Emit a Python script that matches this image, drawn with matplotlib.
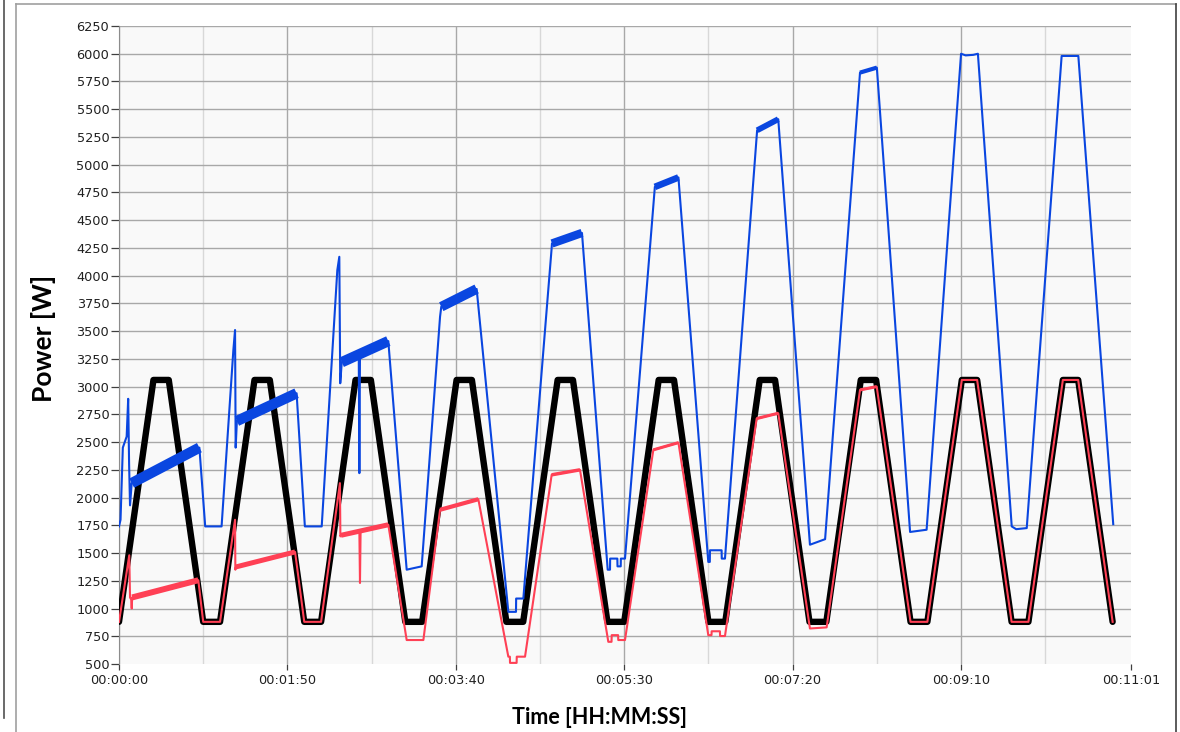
import matplotlib.pyplot as plt
from matplotlib.lines import Line2D
from matplotlib.ticker import FixedLocator, FuncFormatter

# reference power profile (black), seconds / W
ref_t = [0, 22.5, 32.5, 55, 66, 88.5, 98.5, 121, 132, 154.5, 164.5, 187, 198, 220.5,
         230.5, 253, 264, 286.5, 296.5, 319, 330, 352.5, 362.5, 385, 396, 418.5, 428.5,
         451, 462, 484.5, 494.5, 517, 528, 550.5, 560.5, 583, 594, 616.5, 626.5, 649]
ref_p = [880, 3060, 3060, 880, 880, 3060, 3060, 880, 880, 3060, 3060, 880, 880, 3060,
         3060, 880, 880, 3060, 3060, 880, 880, 3060, 3060, 880, 880, 3060, 3060,
         880, 880, 3060, 3060, 880, 880, 3060, 3060, 880, 880, 3060, 3060, 880]

# blue trace
in_t = [0, 1.0, 2.5, 5.0, 6.0, 6.6, 7.2, 8.3, 52.5, 56.3, 67.0,
        74.7, 75.8, 76.2, 77.0, 116.0, 121.4, 132.4,
        142.6, 143.9, 144.5, 145.5, 156.6, 157.0, 157.4, 175.9, 187.9, 197.7,
        209.7, 210.5, 233.6, 254.3, 259.3, 259.4, 264.1,
        282.6, 282.8, 302.4, 319.2, 320.7, 320.8, 325.5, 325.6, 327.7, 327.8, 330.5,
        350.0, 365.4, 384.9, 385.9, 386.0, 393.6, 393.7, 395.8,
        416.8, 430.6, 451.3, 461.2,
        484.0, 495.0, 516.7, 527.5,
        550.0, 553.0, 558.0, 561.0, 583.1, 586.0, 592.9,
        615.7, 626.6, 649.4]
in_p = [1740, 1800, 2450, 2550, 2890, 2300, 1930, 2130, 2450, 1740, 1740,
        3330, 3510, 2450, 2690, 2940, 1740, 1740,
        4050, 4170, 3030, 3220, 3290, 2220, 3300, 3410, 1350, 1380,
        3630, 3720, 3880, 970, 970, 1090, 1090,
        4250, 4290, 4385, 1350, 1350, 1450, 1450, 1380, 1380, 1450, 1450,
        4800, 4885, 1420, 1420, 1525, 1525, 1450, 1450,
        5310, 5410, 1575, 1625,
        5830, 5875, 1690, 1710,
        6000, 5985, 5990, 6000, 1740, 1715, 1725,
        5980, 5980, 1760]

# red trace
out_t = [0, 6.7, 7.2, 8.0, 8.3, 8.6, 51.8, 55.0, 66.0,
         75.8, 76.0, 76.4, 115.0, 121.0, 132.0,
         144.3, 144.6, 145.0, 157.0, 157.4, 157.8, 175.9, 187.9, 198.8,
         209.7, 234.7, 254.3, 255.3, 255.4, 259.7, 259.8, 265.2,
         282.6, 301.1, 319.6, 321.7, 321.8, 326.0, 326.1, 330.5,
         349.0, 365.4, 384.9, 387.0, 387.1, 392.5, 392.6, 395.8,
         416.5, 430.6, 451.3, 462.2,
         484.0, 494.9, 517.0, 528.0,
         550.5, 560.5, 583.0, 594.0,
         616.5, 626.5, 649.0]
out_p = [880, 1480, 1100, 1080, 1000, 1100, 1255, 880, 880,
         1800, 1350, 1375, 1510, 880, 880,
         2130, 1650, 1660, 1700, 1230, 1702, 1755, 716, 716,
         1890, 1985, 566, 566, 510, 510, 566, 566,
         2205, 2250, 700, 700, 760, 760, 716, 716,
         2430, 2495, 760, 760, 795, 795, 752, 752,
         2712, 2760, 820, 830,
         2970, 3000, 880, 880,
         3060, 3060, 880, 880,
         3060, 3060, 880]

# noisy plateaus (start time, start power, end time, end power)
in_band_t0 = [8.3, 77.0, 145.5, 210.5, 282.8, 350.0, 416.8, 484.0]
in_band_p0 = [2130, 2690, 3220, 3720, 4290, 4800, 5310, 5830]
in_band_t1 = [52.5, 116.0, 175.9, 233.6, 302.4, 365.4, 430.6, 495.0]
in_band_p1 = [2450, 2940, 3410, 3880, 4385, 4885, 5410, 5875]

out_band_t0 = [8.6, 76.4, 145.0, 209.7, 282.6, 349.0, 416.5, 484.0]
out_band_p0 = [1100, 1375, 1660, 1890, 2205, 2430, 2712, 2970]
out_band_t1 = [51.8, 115.0, 175.9, 234.7, 301.1, 365.4, 430.6, 494.9]
out_band_p1 = [1255, 1510, 1755, 1985, 2250, 2495, 2760, 3000]

xticks = [0, 110, 220, 330, 440, 550, 661]
xminor = [55, 165, 275, 385, 495, 605]
yticks = list(range(500, 6251, 250))

BLUE = '#0a46e0'
RED = '#ff4055'
in_band_lw = [7.5, 7.5, 7.5, 7, 6, 4.8, 4.2, 3]
out_band_lw = [4.3, 3.6, 3.6, 3, 2.5, 2.2, 2.2, 2.2]

fig = plt.figure(figsize=(11.8, 7.32), dpi=100)
ax = fig.add_axes([119/1180, 1-664/732, (1131-119)/1180, (664-26)/732])
ax.set_facecolor('#f9f9f9')

ax.plot(ref_t, ref_p, color='black', lw=4.6, zorder=3, solid_capstyle='round')
ax.plot(in_t, in_p, color=BLUE, lw=1.5, zorder=4)
for i in range(len(in_band_t0)):
    ax.plot([in_band_t0[i], in_band_t1[i]], [in_band_p0[i], in_band_p1[i]],
            color=BLUE, lw=in_band_lw[i], solid_capstyle='butt', zorder=4)
ax.plot(out_t, out_p, color=RED, lw=1.5, zorder=5)
for i in range(len(out_band_t0)):
    ax.plot([out_band_t0[i], out_band_t1[i]], [out_band_p0[i], out_band_p1[i]],
            color=RED, lw=out_band_lw[i], solid_capstyle='butt', zorder=5)

ax.set_xlim(0, 661)
ax.set_ylim(500, 6250)


def hms(v, pos=None):
    v = int(round(v))
    return '%02d:%02d:%02d' % (v // 3600, (v // 60) % 60, v % 60)


ax.xaxis.set_major_locator(FixedLocator(xticks))
ax.xaxis.set_minor_locator(FixedLocator(xminor))
ax.xaxis.set_major_formatter(FuncFormatter(hms))
ax.yaxis.set_major_locator(FixedLocator(yticks))

ax.grid(True, axis='y', color='#a8a8a8', lw=1)
ax.grid(True, axis='x', which='major', color='#a8a8a8', lw=1)
ax.grid(True, axis='x', which='minor', color='#d8d8d8', lw=1)
ax.get_ygridlines()[0].set_visible(False)
ax.get_xgridlines()[-1].set_visible(False)
ax.set_axisbelow(True)

for s in ['top', 'right', 'bottom']:
    ax.spines[s].set_visible(False)
ax.spines['left'].set_color('#8c8c8c')

ax.tick_params(axis='y', length=5.5, width=0.9, color='#404040', pad=1.5,
               labelsize=9.3, labelcolor='#202020')
ax.tick_params(axis='x', which='major', length=4.5, width=0.9, color='#404040', pad=3,
               labelsize=9.3, labelcolor='#202020')
ax.tick_params(axis='x', which='minor', length=0)

fig.text(44/1180, 1-338/732, 'Power [W]', rotation=90, ha='center', va='center',
         fontsize=19, fontweight='bold', family='Lato')
fig.text(599/1180, 1-718/732, 'Time [HH:MM:SS]', ha='center', va='center',
         fontsize=15.5, fontweight='bold', family='Lato')

# window frame
def fline(x0, y0, x1, y1, c):
    fig.add_artist(Line2D([x0/1180, x1/1180], [1-y0/732, 1-y1/732], color=c, lw=1.2,
                          transform=fig.transFigure))


fline(16, 4, 1176, 4, '#a0a0a0')
fline(16, 4, 16, 732, '#a0a0a0')
fline(1176, 4, 1176, 732, '#404040')
fline(3.5, 0, 3.5, 718, '#505050')

fig.savefig('out.png', dpi=100)
